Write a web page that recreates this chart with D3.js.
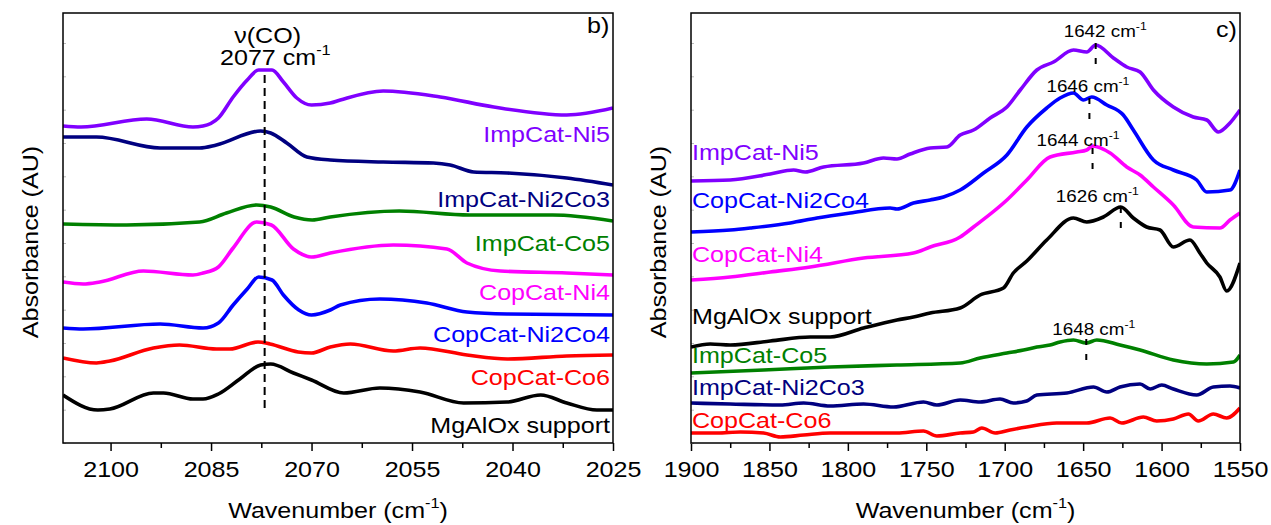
<!DOCTYPE html>
<html>
<head>
<meta charset="utf-8">
<script src="https://cdn.jsdelivr.net/npm/d3@7"></script>
<style>
  body { margin: 0; background: #fff; }
  svg { display: block; }
</style>
</head>
<body>
<svg id="chart" width="1271" height="525"></svg>
<script>
// ---- Series (wavenumber cm-1, absorbance in arbitrary offset units) ----
const seriesNames = ["ImpCat-Ni5", "ImpCat-Ni2Co3", "ImpCat-Co5", "CopCat-Ni4",
                     "CopCat-Ni2Co4", "CopCat-Co6", "MgAlOx support"];

// Panel b) : CO stretching region
const coNi5 = [[2107.1,31.7],[2104.4,31.6],[2094.6,32.4],[2087.7,31.6],[2086.2,31.7],[2083.9,32.5],[2081.7,34.6],[2079.6,36.3],[2077.9,37.3],[2075.9,37.3],[2074.2,36.1],[2072.2,34.5],[2070.0,33.8],[2067.2,34.0],[2065.7,34.3],[2059.3,35.2],[2050.8,34.6],[2042.8,33.6],[2031.9,32.8],[2025,33.5]];
const coNi2Co3 = [[2107.1,30.6],[2102.1,30.6],[2092.6,29.5],[2086.7,29.5],[2084.2,29.8],[2077.6,31.2],[2076.1,31.0],[2073.7,30.0],[2070.7,28.6],[2067.2,28.3],[2059.3,28.1],[2051.8,28.0],[2049.3,27.8],[2045.8,27.1],[2040.8,27.0],[2031.9,26.5],[2025,25.8]];
const coCo5 = [[2107.1,21.9],[2097.6,21.8],[2086.7,22.1],[2082.7,23.0],[2078.2,23.8],[2076.1,23.6],[2072.6,22.6],[2069.9,22.3],[2067.2,22.6],[2056.9,23.2],[2046.4,22.8],[2034,22.8],[2025,22.2]];
const coNi4 = [[2107.1,16.1],[2104.1,15.9],[2101.6,16.1],[2095.1,17.2],[2087.7,16.8],[2086.2,17.0],[2083.9,17.6],[2081.7,19.5],[2078.2,22.1],[2076.0,21.8],[2072.7,19.4],[2070.0,18.6],[2067.2,19.0],[2057.8,19.8],[2049.8,19.4],[2046.8,18.0],[2041.8,17.2],[2031.9,17.0],[2025,16.8]];
const coNi2Co4 = [[2107.1,11.5],[2104.1,11.4],[2092.6,11.9],[2086.2,11.5],[2083.9,12.0],[2081.7,13.8],[2079.6,15.4],[2077.9,16.6],[2075.9,16.3],[2074.2,14.8],[2071.9,13.3],[2070.0,12.8],[2067.2,13.3],[2065.7,13.8],[2059.8,14.4],[2052.8,14.0],[2046.8,13.1],[2040.8,12.9],[2025,12.8]];
const coCo6 = [[2107.1,8.5],[2102.1,8.0],[2100.1,8.2],[2093.6,9.5],[2089.7,9.8],[2084.2,9.4],[2082.2,9.4],[2078.0,10.1],[2076.2,9.9],[2072.0,9.1],[2070.0,9.0],[2067.2,9.6],[2064.2,9.9],[2057.8,9.2],[2053.8,9.5],[2046.8,8.8],[2040.8,8.4],[2031.9,8.7],[2025,8.8]];
const coMgAlOx = [[2107.1,4.8],[2101.9,3.3],[2100.1,3.4],[2093.6,5.0],[2092.1,5.0],[2087.7,4.4],[2086.2,4.4],[2083.9,4.9],[2080.7,6.4],[2077.6,7.8],[2076.1,7.9],[2072.7,7.0],[2070.0,6.3],[2065.2,5.0],[2059.8,5.5],[2053.8,5.1],[2047.3,4.0],[2040.8,4.1],[2035.8,4.8],[2031.9,4.0],[2027.4,3.3],[2025,3.3]];

// Panel c) : 1900-1550 cm-1 region
const ocNi5 = [[1900,26.2],[1875,26.3],[1849.5,26.9],[1834.6,27.3],[1827.2,27.1],[1815.5,27.6],[1790,28.0],[1777.3,28.5],[1768.7,28.4],[1760.3,28.9],[1747.5,29.5],[1736.9,29.6],[1728.4,30.8],[1719.9,31.3],[1709.3,32.5],[1698.6,33.6],[1690.1,35.3],[1679.5,37.3],[1668.9,38.1],[1656.2,39.3],[1647.7,39.1],[1642,39.8],[1630.7,38.5],[1622.2,37.6],[1613.7,37.1],[1605.2,35.3],[1592.5,33.6],[1579.8,32.6],[1571.2,32.3],[1563.8,31.1],[1556.4,32.0],[1550,33.3]];
const ocNi2Co4 = [[1900,21.1],[1875,21.3],[1862.2,21.5],[1836.7,22.0],[1819.7,22.5],[1798.5,23.0],[1773,23.5],[1768.7,23.4],[1758.2,24.0],[1747.5,24.3],[1739,24.6],[1728.4,25.3],[1713.5,27.0],[1698.6,28.8],[1685.9,31.6],[1673.2,33.5],[1664.7,34.5],[1656.2,35.0],[1649.8,34.3],[1644.5,34.6],[1634.9,33.8],[1624.4,32.8],[1618,31.3],[1605.2,28.3],[1592.5,27.3],[1577.6,26.3],[1571.2,25.1],[1556.4,25.3],[1550,27.3]];
const ocNi4 = [[1900,16.3],[1875,16.6],[1849.5,17.1],[1824,17.6],[1790,18.5],[1758.2,19.0],[1747.5,19.6],[1728.4,20.6],[1719.9,21.6],[1698.6,24.3],[1685.9,26.3],[1671.1,28.6],[1654.1,29.1],[1647.7,29.3],[1644,29.7],[1632.8,29.0],[1622.2,27.6],[1613.7,26.8],[1605.2,25.6],[1592.5,23.8],[1579.8,21.6],[1562.8,21.5],[1556.4,22.3],[1550,23.0]];
const ocMgAlOx = [[1900,9.6],[1887.7,9.9],[1875,9.8],[1849.5,10.2],[1824,10.6],[1811.3,10.6],[1790,11.5],[1768.7,12.3],[1758.2,12.6],[1747.5,13.0],[1728.4,13.5],[1715.7,14.8],[1700.8,15.5],[1694.5,17.0],[1685.9,18.2],[1673.2,20.3],[1656.2,22.5],[1647.7,22.1],[1637.1,22.6],[1626,23.6],[1618,22.5],[1609.5,21.6],[1601,21.3],[1592.5,19.6],[1581.9,20.3],[1575.6,19.0],[1571.2,18.0],[1562.8,16.6],[1558.5,15.2],[1550,18.0]];
const ocCo5 = [[1900,7.0],[1853.7,7.3],[1811.3,7.6],[1768.7,7.8],[1728.4,8.0],[1715.7,8.5],[1698.6,9.0],[1688,9.3],[1679.5,9.6],[1671.1,9.8],[1664.7,10.1],[1656.2,10.3],[1648,10.0],[1641.3,10.3],[1626.5,9.8],[1613.7,9.3],[1592.5,8.3],[1571.2,7.9],[1554.2,8.1],[1550,8.8]];
const ocNi2Co3 = [[1900,4.0],[1875,3.9],[1843.1,3.8],[1828.2,4.0],[1811.3,3.7],[1790,3.9],[1770.9,3.6],[1751.8,4.1],[1743.3,3.8],[1728.4,4.3],[1715.7,4.1],[1703,4.4],[1694.5,4.0],[1686,4.2],[1679.5,4.8],[1660.4,5.0],[1643.4,5.6],[1634.9,5.1],[1626.5,5.6],[1613.7,5.9],[1607.3,5.4],[1599.9,5.8],[1592.5,5.4],[1577.6,4.8],[1567,5.6],[1556.4,5.7],[1550,5.5]];
const ocCo6 = [[1900,1.0],[1883.2,1.0],[1868.6,1.1],[1853.7,1.0],[1843.1,0.6],[1828.2,0.8],[1811.3,1.0],[1790,1.0],[1768.7,1.0],[1751.8,1.2],[1743.3,0.7],[1728.4,1.0],[1719.9,1.1],[1714.6,1.5],[1706.1,1.0],[1696.6,1.3],[1686,1.6],[1666.9,2.0],[1647.7,2.0],[1632.8,2.5],[1625.4,2.0],[1611.6,2.6],[1603.1,2.2],[1592.5,2.4],[1582.9,2.9],[1576.6,2.2],[1567,2.9],[1558.5,2.5],[1550,3.5]];

// Ticks
const coTicks = [2100, 2085, 2070, 2055, 2040, 2025];
const coMinorTicks = [2092.5, 2077.5, 2062.5, 2047.5, 2032.5];
const ocTicks = [1900, 1850, 1800, 1750, 1700, 1650, 1600, 1550];
const ocMinorTicks = [1875, 1825, 1775, 1725, 1675, 1625, 1575];
const yTicks = [0, 3.33, 6.67, 10, 13.33, 16.67, 20, 23.33, 26.67, 30, 33.33, 36.67, 40];

// Band markers
const coBandWn = 2077;
const ocPeakWn = [1642, 1646, 1644, 1626, 1648];
const ocPeakAbs = [40.0, 34.5, 29.5, 23.6, 10.4];

// ---- Layout / style ----
const FONT = "'Liberation Sans', Arial, Helvetica, sans-serif";
const SX = 1.14;               // horizontal glyph stretch
const colors = {
  "ImpCat-Ni5": "#8000ff", "ImpCat-Ni2Co3": "#000080", "ImpCat-Co5": "#008000",
  "CopCat-Ni4": "#ff00ff", "CopCat-Ni2Co4": "#0000ff", "CopCat-Co6": "#ff0000",
  "MgAlOx support": "#000000"
};
const plotTop = 13, plotBottom = 443;
const svg = d3.select("#chart");

const y = d3.scaleLinear().domain([0, 43]).range([plotBottom, plotTop]);
const xCO = d3.scaleLinear().domain([2107.1, 2025]).range([63, 613]);
const xOC = d3.scaleLinear().domain([1900, 1550]).range([691, 1240]);

// text with optional superscript segments, stretched horizontally
function label(parent, x, yy, segs, o = {}) {
  const size = o.size || 22;
  const g = parent.append("g")
    .attr("transform", `translate(${x},${yy}) rotate(${o.rotate || 0}) scale(${SX},1)`);
  const t = g.append("text")
    .attr("font-family", FONT).attr("font-size", size)
    .attr("fill", o.fill || "#000").attr("text-anchor", o.anchor || "start");
  let raised = false;
  segs.forEach(([s, kind]) => {
    const sp = t.append("tspan").text(s);
    if (kind === "sup") {
      sp.attr("font-size", size * 0.65).attr("dy", -size * 0.45);
      raised = true;
    } else if (raised) {
      sp.attr("dy", size * 0.45);
      raised = false;
    }
  });
  return g;
}

function panel(x, ticks, minor, data, id) {
  const [x0, x1] = x.range();
  const g = svg.append("g");

  g.append("clipPath").attr("id", id).append("rect")
    .attr("x", x0).attr("y", plotTop).attr("width", x1 - x0).attr("height", plotBottom - plotTop);

  // bottom axis, major + minor ticks
  const ax = g.append("g").attr("transform", `translate(0,${plotBottom})`)
    .call(d3.axisBottom(x).tickValues(ticks).tickSize(8).tickSizeOuter(0).tickFormat(d3.format("d")));
  ax.select(".domain").remove();
  ax.selectAll("line").attr("stroke", "#000").attr("stroke-width", 1.5);
  ax.selectAll("text")
    .attr("y", 34).attr("dy", null)
    .attr("font-family", FONT).attr("font-size", 22).attr("fill", "#000")
    .attr("transform", `scale(${SX},1)`);
  const mx = g.append("g").attr("transform", `translate(0,${plotBottom})`)
    .call(d3.axisBottom(x).tickValues(minor).tickSize(5).tickSizeOuter(0).tickFormat(""));
  mx.select(".domain").remove();
  mx.selectAll("line").attr("stroke", "#000").attr("stroke-width", 1.5);

  // faint inward ticks on the left axis
  const ly = g.append("g").attr("transform", `translate(${x0},0)`)
    .call(d3.axisLeft(y).tickValues(yTicks).tickSize(-3).tickSizeOuter(0).tickFormat(""));
  ly.select(".domain").remove();
  ly.selectAll("line").attr("stroke", "#bbb").attr("stroke-width", 1);

  // spectra
  const line = d3.line().x(d => x(d[0])).y(d => y(d[1])).curve(d3.curveMonotoneX);
  g.append("g").attr("clip-path", `url(#${id})`)
    .selectAll("path").data(data).join("path")
    .attr("d", d => line(d.values))
    .attr("fill", "none")
    .attr("stroke", d => colors[d.name])
    .attr("stroke-width", 3.6)
    .attr("stroke-linejoin", "round");

  // frame
  g.append("rect").attr("x", x0).attr("y", plotTop).attr("width", x1 - x0).attr("height", plotBottom - plotTop)
    .attr("fill", "none").attr("stroke", "#000").attr("stroke-width", 1.5);

  // axis titles
  label(g, (x0 + x1) / 2, 518, [["Wavenumber (cm"], ["-1", "sup"], [")"]], { anchor: "middle" });
  label(g, x0 - 25, 242, [["Absorbance (AU)"]], { anchor: "middle", rotate: -90 });
  return g;
}

// ---- Panel b) ----
const coData = [coNi5, coNi2Co3, coCo5, coNi4, coNi2Co4, coCo6, coMgAlOx]
  .map((v, i) => ({ name: seriesNames[i], values: v }));
const gb = panel(xCO, coTicks, coMinorTicks, coData, "clipB");

gb.append("line")
  .attr("x1", xCO(coBandWn)).attr("x2", xCO(coBandWn))
  .attr("y1", 75).attr("y2", 408)
  .attr("stroke", "#000").attr("stroke-width", 2).attr("stroke-dasharray", "8,5");
label(gb, xCO(coBandWn) + 3, 43, [["\u03bd(CO)"]], { anchor: "middle" });
label(gb, 220, 65, [["2077 cm"], ["-1", "sup"]]);
label(gb, 587, 33, [["b)"]]);

const coLabelY = [142, 207, 251, 300, 342, 385, 433];
seriesNames.forEach((n, i) => label(gb, 610, coLabelY[i], [[n]], { anchor: "end", fill: colors[n] }));

// ---- Panel c) ----
const ocData = [ocNi5, ocNi2Co3, ocCo5, ocNi4, ocNi2Co4, ocCo6, ocMgAlOx]
  .map((v, i) => ({ name: seriesNames[i], values: v }));
const gc = panel(xOC, ocTicks, ocMinorTicks, ocData, "clipC");

const peakDx = [-32, -43, -56, -65, -34];
const peakLift = [6, 6, 2, 5, 4];
ocPeakWn.forEach((wn, i) => {
  const px = xOC(wn), py = y(ocPeakAbs[i]);
  gc.append("line").attr("x1", px).attr("x2", px).attr("y1", py).attr("y2", py + 22)
    .attr("stroke", "#000").attr("stroke-width", 2).attr("stroke-dasharray", "6,9");
  label(gc, px + peakDx[i], py - peakLift[i], [[`${wn} cm`], ["-1", "sup"]], { size: 16.5 });
});
label(gc, 1216, 37, [["c)"]]);

const ocLabelY = { "ImpCat-Ni5": 160, "CopCat-Ni2Co4": 208, "CopCat-Ni4": 262, "MgAlOx support": 324,
                   "ImpCat-Co5": 363, "ImpCat-Ni2Co3": 395, "CopCat-Co6": 428 };
seriesNames.forEach(n => label(gc, 692, ocLabelY[n], [[n]], { fill: colors[n] }));
</script>
</body>
</html>
